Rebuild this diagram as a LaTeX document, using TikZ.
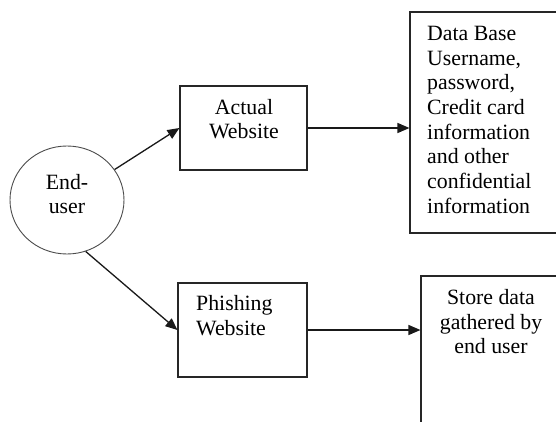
\documentclass[tikz,border=0pt]{standalone}
\usepackage{fontspec}
\setmainfont{Liberation Serif}
\usetikzlibrary{arrows.meta,shapes.geometric}
\begin{document}
\begin{tikzpicture}[x=1pt,y=-1pt,
  box/.style={draw=black!85, line width=1.1pt, rectangle, inner sep=0pt},
  lbl/.style={font=\fontsize{21.8}{24.7}\selectfont, inner sep=0pt, text=black},
  flow/.style={-{Triangle[length=12pt,width=10pt]}, line width=1.3pt, draw=black!90}]
\useasboundingbox (0,0) rectangle (556,422);
\fill[white] (0,0) rectangle (556,422);

% actor
\node[draw=black!70, line width=0.9pt, ellipse, minimum width=114pt, minimum height=108pt, inner sep=0pt] (user) at (67,200) {};
\node[lbl, align=center] (usertxt) at (67,194) {End-\\user};

% genuine path
\node[box, minimum width=127pt, minimum height=84pt] (actual) at (243.5,128) {};
\node[lbl, align=center] (actualtxt) at (244,119) {Actual\\Website};
\node[box, minimum width=165pt, minimum height=221pt] (db) at (492.5,122.5) {};
\node[lbl, align=left, anchor=north west] (dbtxt) at (427,26) {Data Base\\Username,\\password,\\Credit card\\information\\and other\\confidential\\information};

% phishing path
\node[box, minimum width=129pt, minimum height=94pt] (phish) at (242.5,330) {};
\node[lbl, align=left, anchor=north west] (phishtxt) at (196,295) {Phishing\\Website};
\node[box, minimum width=154pt, minimum height=154pt] (store) at (498,353) {};
\node[lbl, align=center, anchor=north] (storetxt) at (491,289) {Store data\\gathered by\\end user};

% connectors
\draw[flow] (user) -- (actual.west);
\draw[flow] (actual.east) -- (db.west |- actual.east);
\draw[flow] (user.-70) -- (phish.west);
\draw[flow] (phish.east) -- (store.west |- phish.east);
\end{tikzpicture}
\end{document}
